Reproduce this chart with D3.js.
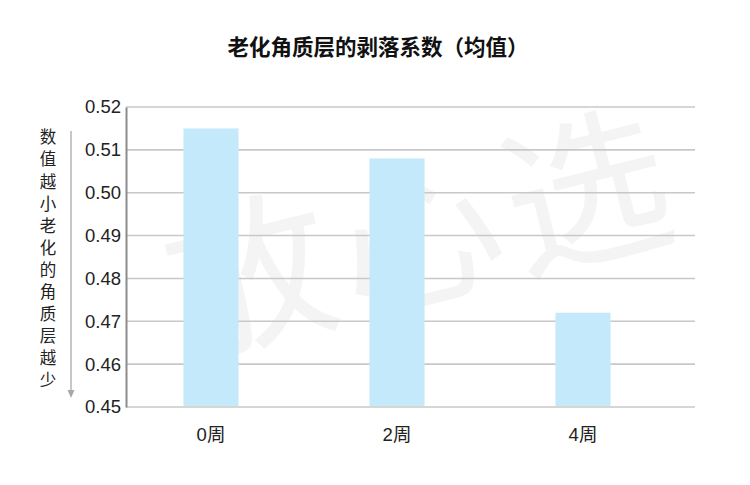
<!DOCTYPE html>
<html>
<head>
<meta charset="utf-8">
<script src="https://cdn.jsdelivr.net/npm/d3@7"></script>
<style>
  html, body { margin: 0; padding: 0; background: #fff; }
  svg { display: block; }
  text { font-family: "Liberation Sans", "Noto Sans CJK SC", sans-serif; }
</style>
</head>
<body>
<svg id="chart" width="750" height="485"></svg>
<script>
const title = "老化角质层的剥落系数（均值）";
const categories = ["0周", "2周", "4周"];
const values = [0.515, 0.508, 0.472];
const yTicks = [0.45, 0.46, 0.47, 0.48, 0.49, 0.50, 0.51, 0.52];
const yLabel = "数值越小老化的角质层越少";
const watermark = "放心选";

const svg = d3.select("#chart");
const plot = { left: 126, right: 695, top: 107, bottom: 407 };

const y = d3.scaleLinear().domain([0.45, 0.52]).range([plot.bottom, plot.top]);
const x = d3.scaleBand().domain(categories)
  .range([118, 676]).paddingInner(0.704).paddingOuter(0.352);

// watermark
svg.append("text")
  .attr("transform", "translate(185,355) rotate(-14)")
  .attr("font-family", "Noto Sans CJK SC")
  .attr("font-size", 165)
  .attr("font-weight", 400)
  .attr("fill", "#f4f4f4")
  .attr("letter-spacing", 8)
  .text(watermark);

// title
svg.append("text")
  .attr("x", 378).attr("y", 55)
  .attr("text-anchor", "middle")
  .attr("font-family", "Noto Sans CJK SC")
  .attr("font-weight", 700)
  .attr("font-size", 21.5)
  .attr("fill", "#111")
  .text(title);

// grid lines
svg.append("g").selectAll("line").data(yTicks).join("line")
  .attr("x1", plot.left).attr("x2", plot.right)
  .attr("y1", d => y(d)).attr("y2", d => y(d))
  .attr("stroke", "#c8c8c8").attr("stroke-width", 1.6);

// bars
svg.append("g").selectAll("rect").data(values).join("rect")
  .attr("x", (d, i) => x(categories[i]))
  .attr("width", x.bandwidth())
  .attr("y", d => y(d))
  .attr("height", d => y(0.45) - y(d) - 1)
  .attr("fill", "#c4e9fb");

// y axis
const yAxis = d3.axisLeft(y).tickValues(yTicks).tickFormat(d3.format(".2f")).tickSize(0).tickPadding(5);
const gy = svg.append("g").attr("transform", `translate(${plot.left},0)`).call(yAxis);
gy.select(".domain").attr("stroke", "#8c8c8c").attr("stroke-width", 2);
gy.selectAll("text")
  .attr("font-family", "Liberation Sans, Arial, sans-serif")
  .attr("font-size", 18.5).attr("fill", "#222");

// x axis labels
const xAxis = d3.axisBottom(x).tickSize(0).tickPadding(0);
const gx = svg.append("g").attr("transform", `translate(0,${plot.bottom + 21})`).call(xAxis);
gx.select(".domain").remove();
gx.selectAll("text")
  .attr("font-family", "Liberation Sans, 'Noto Sans CJK SC', sans-serif")
  .attr("font-size", 18.5).attr("fill", "#222");

// vertical y label
const chars = Array.from(yLabel);
const labelY = d3.scalePoint().domain(d3.range(chars.length)).range([137.5, 380]);
svg.append("g").selectAll("text").data(chars).join("text")
  .attr("x", 48).attr("y", (d, i) => labelY(i))
  .attr("dy", "0.36em")
  .attr("text-anchor", "middle")
  .attr("font-family", "Noto Sans CJK SC")
  .attr("font-size", 16.5)
  .attr("fill", "#222")
  .text(d => d);

// arrow
svg.append("line")
  .attr("x1", 71).attr("x2", 71).attr("y1", 131).attr("y2", 391)
  .attr("stroke", "#b5b5b5").attr("stroke-width", 1.5);
svg.append("path")
  .attr("d", "M67.5,390 L74.5,390 L71,398 Z")
  .attr("fill", "#a8a8a8");
</script>
</body>
</html>
